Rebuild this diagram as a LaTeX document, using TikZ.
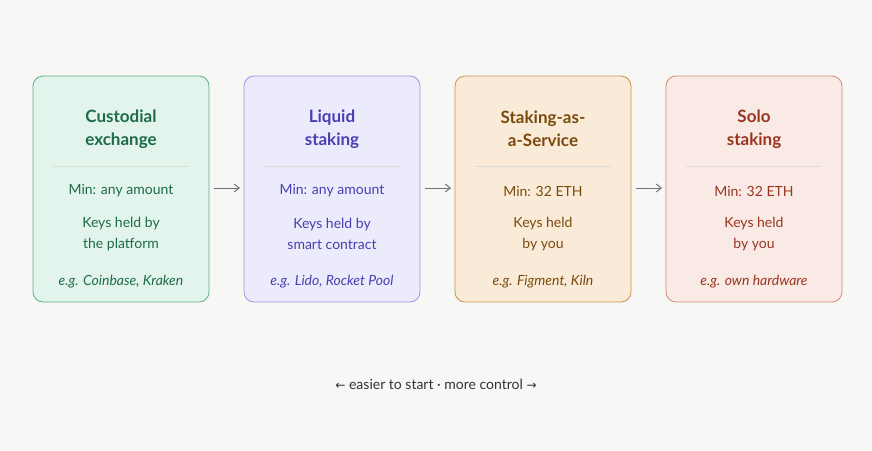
\documentclass[tikz,border=0pt]{standalone}
\usepackage{fontspec}
\setmainfont{Lato}
\usetikzlibrary{arrows.meta}
\definecolor{bg}{HTML}{F7F7F5}
\definecolor{fA}{HTML}{E2F4EC}\definecolor{dA}{HTML}{5FAE8C}\definecolor{tA}{HTML}{1E6A4C}
\definecolor{fB}{HTML}{ECEBFB}\definecolor{dB}{HTML}{9D97E2}\definecolor{tB}{HTML}{4A3FB2}
\definecolor{fC}{HTML}{FAEBD8}\definecolor{dC}{HTML}{C9934C}\definecolor{tC}{HTML}{7A4A0C}
\definecolor{fD}{HTML}{FAEAE6}\definecolor{dD}{HTML}{D18A72}\definecolor{tD}{HTML}{9A3520}
\definecolor{sep}{HTML}{DDDDD8}
\tikzset{x=1pt,y=-1pt,
 card/.style={rounded corners=10pt,line width=0.8pt},
 ttl/.style={font=\fontsize{17}{23}\selectfont\bfseries,align=center},
 bd/.style={font=\fontsize{14}{21}\selectfont,align=center},
 eg/.style={font=\fontsize{14}{18}\selectfont\itshape},
 arr/.style={-{Straight Barb[length=5pt,width=8pt]},line width=1pt,draw=black!55}}
\newcommand\mycard[8]{% name, x, fill, draw, text, title, keys, eg
 \draw[card,fill=#3,draw=#4] (#2,76) rectangle ++(176,226);
 \node[ttl,text=#5] (#1t) at (#2+88,129) {#6};
 \draw[sep] (#2+20,166) -- (#2+156,166);
 \node[bd,text=#5] (#1m) at (#2+88,191) {Min: #8};
 \node[bd,text=#5] (#1k) at (#2+88,234) {#7};
 \coordinate (#1l) at (#2,188); \coordinate (#1r) at (#2+176,188);}
\begin{document}
\begin{tikzpicture}
\fill[bg] (0,0) rectangle (872,450);
\mycard{a}{33}{fA}{dA}{tA}{Custodial\\exchange}{Keys held by\\the platform}{any amount}
\node[eg,text=tA] (ae) at (121,282) {e.g. Coinbase, Kraken};
\mycard{b}{244}{fB}{dB}{tB}{Liquid\\staking}{Keys held by\\smart contract}{any amount}
\node[eg,text=tB] (be) at (332,282) {e.g. Lido, Rocket Pool};
\mycard{c}{455}{fC}{dC}{tC}{Staking-as-\\a-Service}{Keys held\\by you}{32 ETH}
\node[eg,text=tC] (ce) at (543,282) {e.g. Figment, Kiln};
\mycard{d}{666}{fD}{dD}{tD}{Solo\\staking}{Keys held\\by you}{32 ETH}
\node[eg,text=tD] (de) at (754,282) {e.g. own hardware};
\draw[arr] ([xshift=5pt]ar) -- ([xshift=-4pt]bl);
\draw[arr] ([xshift=5pt]br) -- ([xshift=-4pt]cl);
\draw[arr] ([xshift=5pt]cr) -- ([xshift=-4pt]dl);
\node[font=\fontsize{14}{18}\selectfont,text=black!80] (cap) at (436,384) {{\fontspec{DejaVu Sans}\fontsize{12}{18}\selectfont ←} easier to start · more control {\fontspec{DejaVu Sans}\fontsize{12}{18}\selectfont →}};
\end{tikzpicture}
\end{document}
